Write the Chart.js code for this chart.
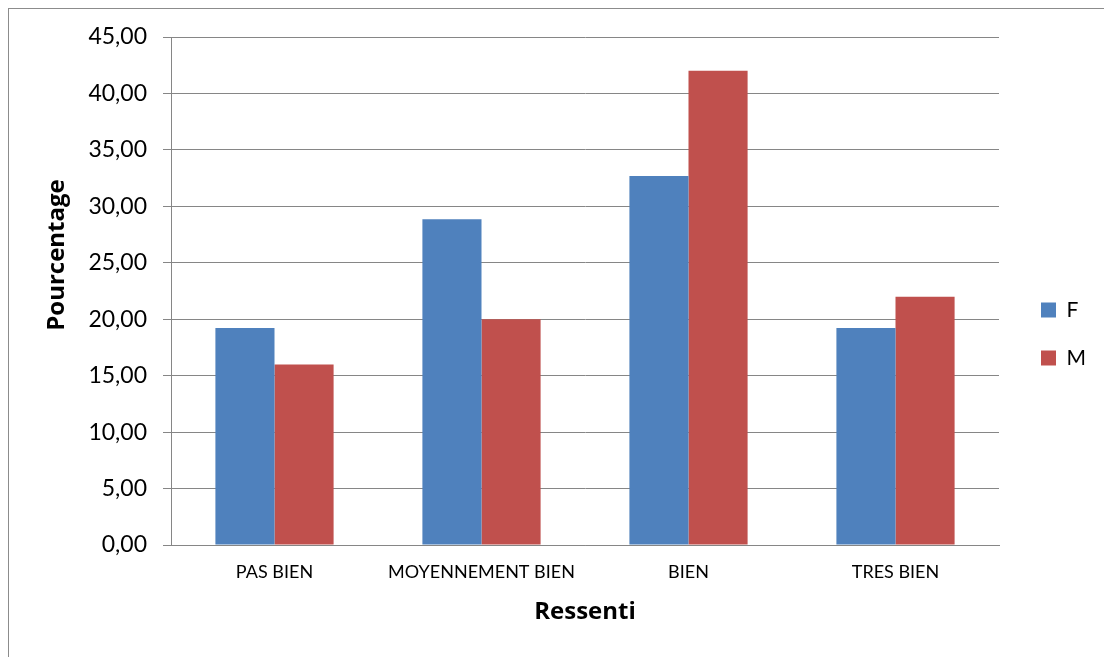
<!DOCTYPE html>
<html>
<head>
<meta charset="utf-8">
<script src="https://cdn.jsdelivr.net/npm/chart.js@4/dist/chart.umd.min.js"></script>
<style>
    body { margin: 0; overflow: hidden; background: #fff; }
    #cadre { position: absolute; left: 8px; top: 8px; width: 1200px; height: 700px;
             border-left: 1px solid #8c8c8c; border-top: 1px solid #8c8c8c; }
    #graf { position: absolute; left: 0; top: 0; }
</style>
</head>
<body>
<div id="cadre"></div>
<canvas id="graf" width="1104" height="657"></canvas>
<script>
/*Donnees*/
let categories = ["PAS BIEN", "MOYENNEMENT BIEN", "BIEN", "TRES BIEN"]
let valeursF = [19.23, 28.85, 32.69, 19.23]
let valeursM = [16.00, 20.00, 42.00, 22.00]
let ticksY = [0, 5, 10, 15, 20, 25, 30, 35, 40, 45]

const police = "Lato, 'Open Sans', sans-serif"
const policeTitre = "'Open Sans', Lato, sans-serif"
const gris = "#868686"

//Titre vertical de l'axe Y
const titreY = {
    id: "titreY",
    afterDraw(chart) {
        let ctx = chart.ctx
        ctx.save()
        ctx.translate(64, 255)
        ctx.rotate(-Math.PI / 2)
        ctx.font = `bold 24px ${policeTitre}`
        ctx.fillStyle = "#000"
        ctx.textAlign = "center"
        ctx.textBaseline = "alphabetic"
        ctx.fillText("Pourcentage", 0, 0)
        ctx.restore()
    }
}

let graf = new Chart("graf", {
    type: "bar",
    data: {
        labels: categories,
        datasets: [{
            label: "F",
            data: valeursF,
            backgroundColor: "#4F81BD"
        }, {
            label: "M",
            data: valeursM,
            backgroundColor: "#C0504D"
        }]
    },
    options: {
        responsive: false,
        animation: false,
        layout: { padding: { top: 37, left: 0, right: 8, bottom: 26 } },
        datasets: { bar: { categoryPercentage: 0.571, barPercentage: 1.0 } },
        scales: {
            x: {
                grid: { display: false, drawTicks: false },
                border: { display: true, color: gris, width: 1 },
                ticks: { color: "#000", font: { family: police, size: 18 }, padding: 16, maxRotation: 0 },
                title: {
                    display: true, text: "Ressenti", color: "#000",
                    font: { family: policeTitre, size: 24, weight: "bold" },
                    padding: { top: 0, bottom: 4 }
                },
                afterFit: s => { s.height = 86 }
            },
            y: {
                min: 0,
                max: 45,
                afterBuildTicks: s => { s.ticks = ticksY.map(v => ({ value: v })) },
                grid: { color: gris, lineWidth: 1, tickLength: 8 },
                border: { display: true, color: gris, width: 1 },
                ticks: {
                    color: "#000",
                    font: { family: police, size: 23 },
                    padding: 16,
                    callback: v => v.toFixed(2).replace(".", ",")
                },
                afterFit: s => { s.width = 171 }
            },
            // petite marge entre le graphique et la legende
            marge: {
                type: "linear",
                position: "right",
                display: true,
                grid: { display: false },
                border: { display: false },
                ticks: { display: false },
                afterFit: s => { s.width = 15 }
            }
        },
        plugins: {
            legend: {
                position: "right",
                labels: {
                    boxWidth: 15,
                    boxHeight: 15,
                    padding: 27,
                    color: "#000",
                    font: { family: police, size: 21 }
                }
            },
            tooltip: { enabled: false }
        }
    },
    plugins: [titreY]
})
</script>
</body>
</html>
